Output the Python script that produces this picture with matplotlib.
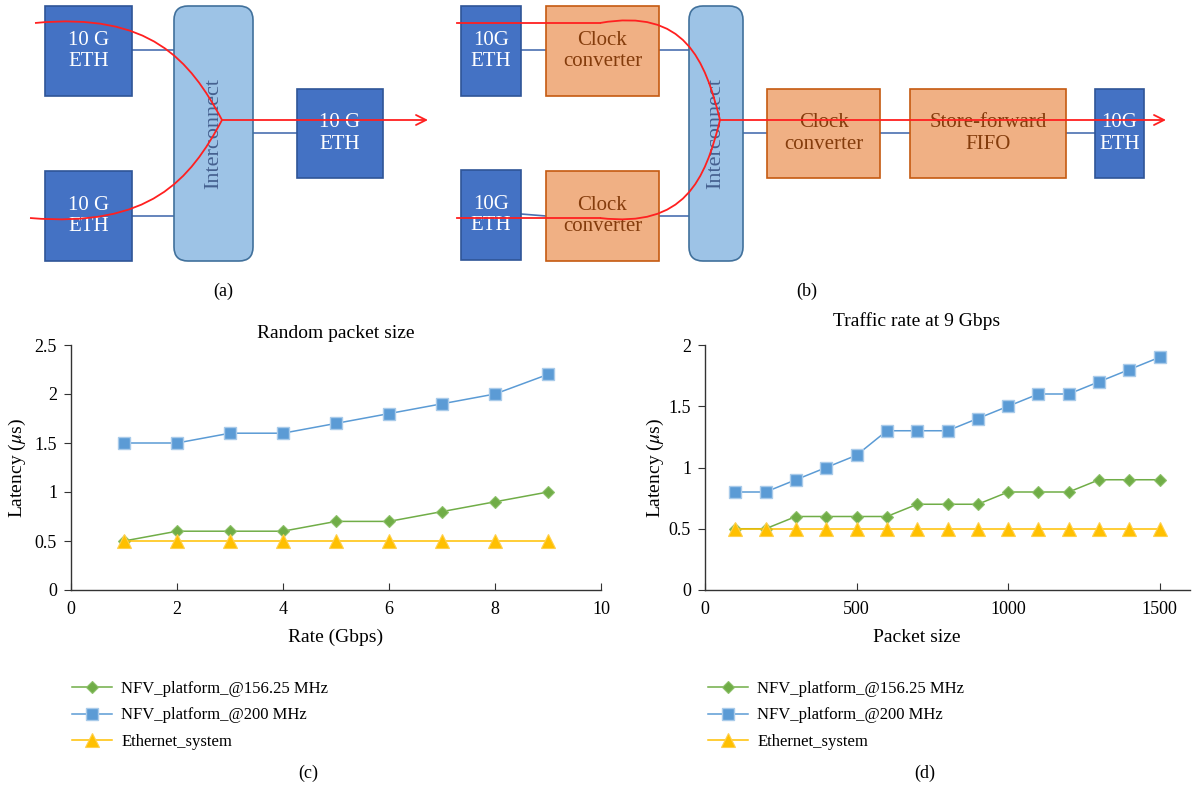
import matplotlib
matplotlib.use("Agg")
import matplotlib.pyplot as plt
from matplotlib.patches import Rectangle, FancyBboxPatch, PathPatch
from matplotlib.path import Path

# ---------------- data ----------------
rate_gbps = [1, 2, 3, 4, 5, 6, 7, 8, 9]
c_nfv_156 = [0.5, 0.6, 0.6, 0.6, 0.7, 0.7, 0.8, 0.9, 1.0]
c_nfv_200 = [1.5, 1.5, 1.6, 1.6, 1.7, 1.8, 1.9, 2.0, 2.2]
c_eth = [0.5, 0.5, 0.5, 0.5, 0.5, 0.5, 0.5, 0.5, 0.5]

packet_size = [100, 200, 300, 400, 500, 600, 700, 800, 900, 1000, 1100, 1200, 1300, 1400, 1500]
d_nfv_156 = [0.5, 0.5, 0.6, 0.6, 0.6, 0.6, 0.7, 0.7, 0.7, 0.8, 0.8, 0.8, 0.9, 0.9, 0.9]
d_nfv_200 = [0.8, 0.8, 0.9, 1.0, 1.1, 1.3, 1.3, 1.3, 1.4, 1.5, 1.6, 1.6, 1.7, 1.8, 1.9]
d_eth = [0.5, 0.5, 0.5, 0.5, 0.5, 0.5, 0.5, 0.5, 0.5, 0.5, 0.5, 0.5, 0.5, 0.5, 0.5]

labels = ["NFV_platform_@156.25 MHz", "NFV_platform_@200 MHz", "Ethernet_system"]
c_xticks = [0, 2, 4, 6, 8, 10]
c_yticks = [0, 0.5, 1, 1.5, 2, 2.5]
d_xticks = [0, 500, 1000, 1500]
d_yticks = [0, 0.5, 1, 1.5, 2]

# ---------------- style ----------------
plt.rcParams['font.family'] = ['Liberation Serif', 'DejaVu Serif']
plt.rcParams['mathtext.fontset'] = 'stix'
FS = 13
FS_T = 14
FS_LEG = 12
FS_D = 15
GREEN = '#70AD47'
BLUE = '#5B9BD5'
YELLOW = '#FFC000'
AXC = '#333333'

W, H = 1192, 795
fig = plt.figure(figsize=(W / 100, H / 100), dpi=100)

def fx(px):
    return px / W

def fy(py):
    return 1 - py / H

# ---------------- diagram overlay ----------------
dax = fig.add_axes([0, 0, 1, 1])
dax.set_xlim(0, W)
dax.set_ylim(H, 0)
dax.axis('off')

DBLUE = '#4472C4'
DBLUE_E = '#2F5597'
LBLUE = '#9DC3E6'
LBLUE_E = '#41719C'
ORANGE = '#F0B084'
ORANGE_E = '#C55A11'
ORANGE_T = '#843C0C'
LINEC = '#4A6FB0'
RED = '#FF2020'

def box(x0, y0, x1, y1, fc, ec, text=None, tc='white', fs=FS_D, rounded=False, rot=0):
    if rounded:
        p = FancyBboxPatch((x0, y0), x1 - x0, y1 - y0,
                           boxstyle="round,pad=0,rounding_size=14",
                           fc=fc, ec=ec, lw=1.2, zorder=2)
    else:
        p = Rectangle((x0, y0), x1 - x0, y1 - y0, fc=fc, ec=ec, lw=1.2, zorder=2)
    dax.add_patch(p)
    if text:
        dax.text((x0 + x1) / 2, (y0 + y1) / 2, text, ha='center', va='center',
                 color=tc, fontsize=fs, rotation=rot, zorder=3, linespacing=1.15)

def link(x0, y0, x1, y1):
    dax.plot([x0, x1], [y0, y1], color=LINEC, lw=1.2, zorder=1)

def curve(p0, p1, p2, p3):
    path = Path([p0, p1, p2, p3], [Path.MOVETO, Path.CURVE4, Path.CURVE4, Path.CURVE4])
    dax.add_patch(PathPatch(path, fc='none', ec=RED, lw=1.3, zorder=4))

# (a)
link(132, 50, 174, 50)
link(132, 216, 174, 216)
link(253, 133, 297, 133)
box(45, 6, 132, 96, DBLUE, DBLUE_E, "10 G\nETH")
box(45, 171, 132, 261, DBLUE, DBLUE_E, "10 G\nETH")
box(174, 6, 253, 261, LBLUE, LBLUE_E, "Interconnect", tc='#45608F', fs=16, rounded=True, rot=90)
box(297, 89, 383, 178, DBLUE, DBLUE_E, "10 G\nETH")
curve((35, 23), (150, 12), (190, 60), (222, 120))
curve((30, 218), (150, 228), (190, 180), (222, 120))
dax.annotate('', xy=(428, 120), xytext=(222, 120),
             arrowprops=dict(arrowstyle='->', color=RED, lw=1.3,
                             mutation_scale=18, shrinkA=0, shrinkB=0), zorder=4)
dax.text(223, 291, "(a)", ha='center', va='center', fontsize=FS)

# (b)
link(521, 50, 546, 50)
link(659, 50, 689, 50)
link(521, 214, 546, 216)
link(659, 216, 689, 216)
link(743, 133, 767, 133)
link(880, 133, 910, 133)
link(1066, 133, 1095, 133)
box(461, 6, 521, 96, DBLUE, DBLUE_E, "10G\nETH")
box(546, 6, 659, 96, ORANGE, ORANGE_E, "Clock\nconverter", tc=ORANGE_T)
box(461, 170, 521, 260, DBLUE, DBLUE_E, "10G\nETH")
box(546, 171, 659, 261, ORANGE, ORANGE_E, "Clock\nconverter", tc=ORANGE_T)
box(689, 6, 743, 261, LBLUE, LBLUE_E, "Interconnect", tc='#45608F', fs=16, rounded=True, rot=90)
box(767, 89, 880, 178, ORANGE, ORANGE_E, "Clock\nconverter", tc=ORANGE_T)
box(910, 89, 1066, 178, ORANGE, ORANGE_E, "Store-forward\nFIFO", tc=ORANGE_T)
box(1095, 89, 1144, 178, DBLUE, DBLUE_E, "10G\nETH")
dax.plot([457, 600], [23, 23], color=RED, lw=1.3, zorder=4)
dax.plot([457, 600], [218, 218], color=RED, lw=1.3, zorder=4)
curve((600, 23), (685, 8), (705, 60), (720, 120))
curve((600, 218), (685, 228), (705, 180), (720, 120))
dax.annotate('', xy=(1166, 120), xytext=(720, 120),
             arrowprops=dict(arrowstyle='->', color=RED, lw=1.3,
                             mutation_scale=18, shrinkA=0, shrinkB=0), zorder=4)
dax.text(807, 291, "(b)", ha='center', va='center', fontsize=FS)

# ---------------- charts ----------------
def style_axes(ax, xlim, ylim, xt, yt):
    ax.set_xlim(*xlim)
    ax.set_ylim(*ylim)
    ax.set_xticks(xt)
    ax.set_yticks(yt)
    ax.set_xticklabels([f"{v:g}" for v in xt])
    ax.set_yticklabels([f"{v:g}" for v in yt])
    for s in ['top', 'right']:
        ax.spines[s].set_visible(False)
    for s in ['left', 'bottom']:
        ax.spines[s].set_color(AXC)
        ax.spines[s].set_linewidth(1.0)
    ax.tick_params(axis='x', direction='in', length=5, color=AXC, labelsize=FS, pad=8)
    ax.tick_params(axis='y', direction='out', length=5, color=AXC, labelsize=FS, pad=5)
    ax.patch.set_alpha(0)

def draw_series(ax, x, g, b, y):
    l1, = ax.plot(x, g, color=GREEN, marker='D', ms=6.5, mec='#8CC068', mew=0.8, lw=1.1, clip_on=False, zorder=3)
    l2, = ax.plot(x, b, color=BLUE, marker='s', ms=9, mec='#A9CBEA', mew=1.0, lw=1.1, clip_on=False, zorder=3)
    l3, = ax.plot(x, y, color=YELLOW, marker='^', ms=10, mec='#FFD04D', mew=0.8, lw=1.1, clip_on=False, zorder=3)
    return [l1, l2, l3]

def legend(ax, handles, x0):
    ax.legend(handles, labels, loc='upper left', bbox_to_anchor=(fx(x0), fy(681)),
              bbox_transform=fig.transFigure, frameon=False, fontsize=FS_LEG,
              borderpad=0, borderaxespad=0, handlelength=2.4, handletextpad=0.55,
              labelspacing=0.62)

# (c)
axc = fig.add_axes([fx(71), fy(590), fx(601) - fx(71), fy(345) - fy(590)])
style_axes(axc, (0, 10), (0, 2.5), c_xticks, c_yticks)
hc = draw_series(axc, rate_gbps, c_nfv_156, c_nfv_200, c_eth)
fig.text(fx(336), fy(334), "Random packet size", ha='center', va='center', fontsize=FS_T)
fig.text(fx(336), fy(637), "Rate (Gbps)", ha='center', va='center', fontsize=FS_T)
fig.text(fx(17), fy(468), r"Latency ($\mu$s)", ha='center', va='center', fontsize=FS_T, rotation=90)
legend(axc, hc, 72)
fig.text(fx(308), fy(773), "(c)", ha='center', va='center', fontsize=FS)

# (d)
axd = fig.add_axes([fx(705), fy(590), fx(1190) - fx(705), fy(345) - fy(590)])
style_axes(axd, (0, 1600), (0, 2), d_xticks, d_yticks)
hd = draw_series(axd, packet_size, d_nfv_156, d_nfv_200, d_eth)
fig.text(fx(917), fy(321), "Traffic rate at 9 Gbps", ha='center', va='center', fontsize=FS_T)
fig.text(fx(917), fy(637), "Packet size", ha='center', va='center', fontsize=FS_T)
fig.text(fx(655), fy(468), r"Latency ($\mu$s)", ha='center', va='center', fontsize=FS_T, rotation=90)
legend(axd, hd, 708)
fig.text(fx(925), fy(773), "(d)", ha='center', va='center', fontsize=FS)

fig.savefig("out.png", dpi=100)
